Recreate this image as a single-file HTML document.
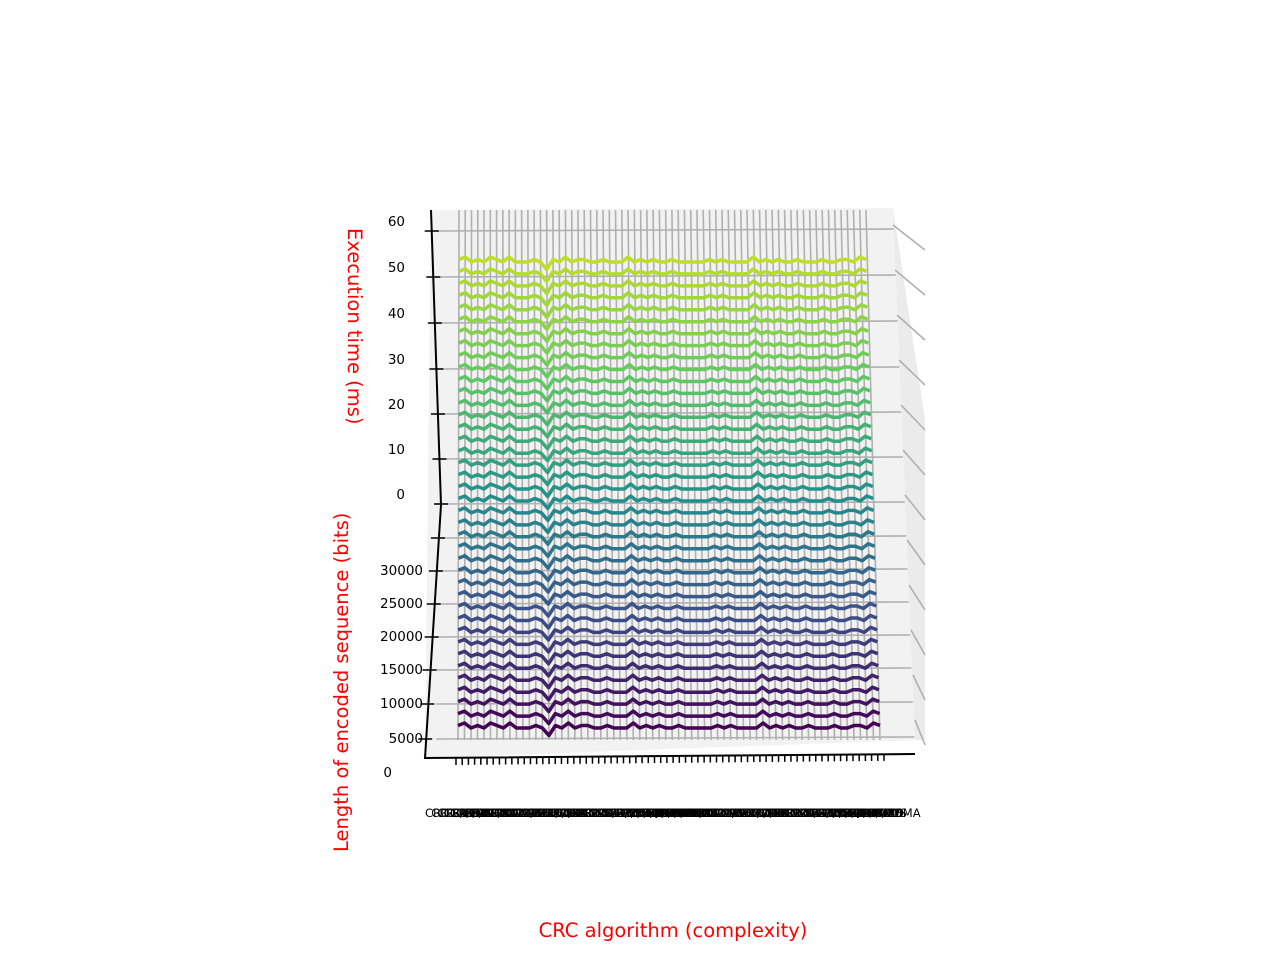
<!DOCTYPE html>
<html><head><meta charset="utf-8"><style>
body{margin:0;background:#fff;}
svg{display:block;font-family:"DejaVu Sans","Liberation Sans",sans-serif;}
</style></head><body>
<svg id="chart" width="1280" height="960" viewBox="0 0 1280 960">
<polygon points="431,210 893,208 915,740 425,758" fill="#f2f2f2"/>
<polygon points="893,208 925,420 925,740 915,740" fill="#ebebeb"/>
<g id="grid"></g>
<g id="lines"></g>
<polyline points="431,210 441,505 425,758 915,754" fill="none" stroke="#000" stroke-width="2"/>
<g id="ticks"></g>
<text x="0" y="0" transform="translate(348,228) rotate(90)" fill="red" font-size="19.5">Execution time (ms)</text>
<text x="0" y="0" transform="translate(348,852) rotate(-90)" fill="red" font-size="19.5">Length of encoded sequence (bits)</text>
<text x="673" y="937" text-anchor="middle" fill="red" font-size="19.5">CRC algorithm (complexity)</text>
<g id="xlabels"></g>
</svg>
<script>
const zTickLabels=["60","50","40","30","20","10","0"];
const zTickY=[231,277,323,369,414,459,504];
const lenTickLabels=["","30000","25000","20000","15000","10000","5000","0"];
const lenTickY=[538,571,604,637,670,704,739,773];
const pattern=[1,2,0,1,0,2,1,0,2,0,0,0,1,0,-3,1,0,2,0,1,1,0,0,1,0,0,0,2,0,1,0,1,0,0,1,0,0,0,0,0,1,0,1,0,0,0,0,2,0,1,0,1,0,0,1,0,0,0,1,0,0,1,1,0,2,1];
const rowLevels=[];for(let i=0;i<40;i++)rowLevels.push(i);
const names=["CRC-3/GSM","CRC-4/ITU","CRC-5/USB","CRC-6/CDMA","CRC-7","CRC-8","CRC-8/MAXIM","CRC-10","CRC-11","CRC-12","CRC-13/BBC","CRC-14","CRC-15","CRC-16","CRC-16/ARC","CRC-16/KERMIT","CRC-17/CAN","CRC-21","CRC-24","CRC-30","CRC-31","CRC-32","CRC-32C","CRC-40/GSM","CRC-64","CRC-64/XZ","CRC-82/DARC","CRC-32/MPEG","CRC-16/XMODEM","CRC-16/MODBUS","CRC-64/GO-ISO","CRC-8/CDMA"];
const NS="http://www.w3.org/2000/svg";
const N=pattern.length,R=rowLevels.length;
function colX(c,t){const l=459-1*t,r=866+14*t;return l+(r-l)*c/(N-1);}
function rowY(r){return 728-(728-262)*r/(R-1);}
function viridis(t){const s=[[68,1,84],[59,82,139],[33,145,140],[94,201,98],[189,223,38]];const p=t*(s.length-1),i=Math.min(Math.floor(p),s.length-2),f=p-i;return"rgb("+s[i].map((v,k)=>Math.round(v+(s[i+1][k]-v)*f)).join(",")+")";}
const grid=document.getElementById('grid');
function ln(g,x1,y1,x2,y2,col,w,name){const e=document.createElementNS(NS,'line');e.setAttribute('x1',x1);e.setAttribute('y1',y1);e.setAttribute('x2',x2);e.setAttribute('y2',y2);e.setAttribute('stroke',col);e.setAttribute('stroke-width',w);


g.appendChild(e);}
zTickY.concat(lenTickY.slice(0,7)).forEach(y=>ln(grid,436,y,893+(y-208)*0.04,y-2,'#b0b0b0',1.6,'h-gridline'));
for(let c=0;c<N;c++){ln(grid,colX(c,0),210,colX(c,1),740,'#b0b0b0',1.6,'v-gridline');}
for(let i=0;i<12;i++){const y=225+i*45;ln(grid,893+i*2,y,925,y+25,'#b0b0b0',1.6,'side-gridline');}
const lg=document.getElementById('lines');
for(let r=0;r<R;r++){const t=r/(R-1);const amp=2.5;let pts=[];for(let c=0;c<N;c++){pts.push(colX(c,1-t).toFixed(1)+","+(rowY(rowLevels[r])-pattern[c]*amp).toFixed(1));}
const p=document.createElementNS(NS,'polyline');p.setAttribute('points',pts.join(' '));p.setAttribute('fill','none');p.setAttribute('stroke',viridis(t));p.setAttribute('stroke-width',3.5);p.setAttribute('stroke-linejoin','round');


lg.appendChild(p);}
const tg=document.getElementById('ticks');
function tx(x,y,s,name){const e=document.createElementNS(NS,'text');e.setAttribute('x',x);e.setAttribute('y',y);e.setAttribute('font-size','13.5');e.setAttribute('text-anchor','end');e.textContent=s;


tg.appendChild(e);}
zTickY.forEach((y,i)=>{const ax=431+(y-210)*10/295;ln(tg,ax-7,y,ax+7,y,'#000',1.5,'z-tick');tx(405,y-5,zTickLabels[i],'z-tick-label');});
lenTickY.forEach((y,i)=>{if(i<7){const ax=441-(y-505)*16/253;ln(tg,ax-8,y,ax+6,y,'#000',1.5,'len-tick');}tx(i==7?392:423,y+4,lenTickLabels[i],'len-tick-label');});
for(let c=0;c<70;c++){const x=456+c*(884-456)/69;ln(tg,x,758-c*0.06,x,765-c*0.06,'#000',1.5,'x-tick');}
const xl=document.getElementById('xlabels');
for(let c=0;c<70;c++){const e=document.createElementNS(NS,'text');e.setAttribute('x',425+c*6.3);e.setAttribute('y',817);e.setAttribute('font-size','11.5');e.textContent=names[c%names.length];


xl.appendChild(e);}
</script>
</body></html>
